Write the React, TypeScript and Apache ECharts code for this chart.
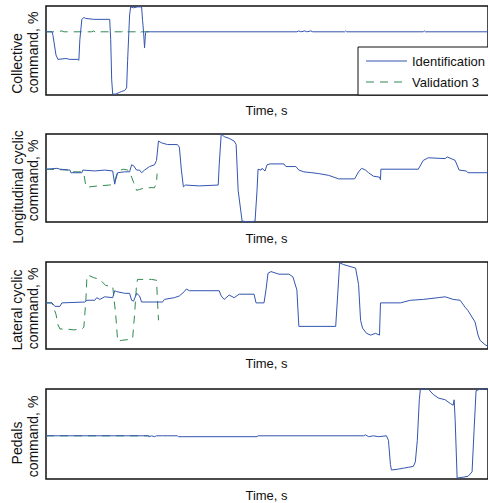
import React, { useEffect, useRef } from "react";
import * as echarts from "echarts";

const SERIES_NAMES = ["Identification", "Validation 3"];
const Y_LABELS = [
  ["Collective", "command, %"],
  ["Longitudinal cyclic", "command, %"],
  ["Lateral cyclic", "command, %"],
  ["Pedals", "command, %"],
];
const X_LABEL = "Time, s";

// [time, %]
const collectiveId = [
  [0, 71], [1.5, 71], [1.75, 67], [2.5, 45], [3, 40], [5, 41], [6, 40], [8, 40], [8.25, 39], [8.5, 62],
  [9, 85], [9.5, 87], [10, 86], [12, 85], [16, 85], [16.25, 62], [16.5, 17], [16.75, 1], [17.5, 1],
  [18.5, 3], [19, 4], [19.75, 5], [20.25, 8], [20.5, 39], [21, 90], [21.25, 99], [22, 98], [23, 99],
  [24, 99], [24.25, 84], [24.5, 71], [24.75, 53], [25, 70], [25.25, 71], [63, 71], [63.5, 72], [64, 71],
  [65, 72], [65.5, 71], [66.5, 72], [67, 71], [75, 71], [75.25, 72], [75.5, 71], [94.75, 71], [95, 72],
  [95.25, 71], [111, 71],
];
const collectiveVal = [
  [0, 71], [3, 71], [4, 72], [4.5, 71], [11.5, 71], [12, 72], [12.5, 70], [13, 71], [19, 71], [19.5, 72],
  [20, 70], [20.5, 71], [22.5, 71], [23, 72], [23.5, 70], [24, 71], [27.25, 71],
];

const longId = [
  [0, 60], [2.75, 61], [3.5, 60], [6, 59], [6.25, 56], [9, 56], [9.25, 59], [12.25, 58], [14.75, 59],
  [16.75, 58], [17.25, 43], [17.5, 48], [18, 56], [19.75, 57], [21, 57], [21.5, 65], [22, 64],
  [22.75, 59], [23.5, 59], [24, 56], [24.75, 59], [26, 63], [27.25, 65], [27.75, 70], [28.25, 92],
  [29, 90], [30.5, 88], [33, 88], [33.5, 85], [34, 59], [34.5, 40], [35, 42], [38.5, 41], [43.25, 42],
  [43.5, 65], [44, 100], [44.75, 97], [46, 95], [47.25, 92], [47.75, 88], [48.25, 36], [49.25, 1],
  [51, 0], [52.5, 1], [53, 36], [53.25, 60], [54, 59], [54.25, 61], [55, 58], [55.5, 65], [56.25, 66],
  [59.75, 66], [60.25, 63], [62.75, 63], [63.5, 59], [64.75, 57], [66.75, 56], [68.5, 55], [71, 53],
  [73.5, 49], [77.5, 49], [78.5, 57], [79.25, 61], [80.25, 59], [81, 56], [82.25, 52], [83.75, 51],
  [84, 48], [84.1, 60], [93.5, 60], [94.75, 70], [96, 73], [100.25, 72], [100.75, 74], [102.75, 70],
  [103.75, 59], [105.5, 58], [106, 56], [111, 56],
];
const longVal = [
  [0, 60], [6, 59], [6.25, 57], [9, 57], [9.5, 55], [10, 41], [10.5, 39], [11, 40], [13, 41], [16, 42],
  [17, 43], [17.5, 50], [18, 58], [19.5, 60], [20.5, 59], [21, 57], [22, 45], [22.75, 36], [23.5, 37],
  [25, 39], [27.25, 39], [27.75, 45], [27.9, 55],
];

const latId = [
  [0, 53], [1.5, 53], [2.25, 49], [3.5, 49], [4, 53], [9.75, 54], [10.25, 56], [12.25, 56], [12.75, 59],
  [13.5, 57], [14.75, 60], [16.75, 59], [17.25, 67], [17.75, 66], [19.75, 64], [21, 64], [21.5, 56],
  [22, 55], [22.75, 64], [23.5, 61], [24, 54], [29.25, 54], [29.75, 57], [32.25, 59], [33.5, 61],
  [34.75, 66], [35.25, 69], [36, 67], [43.5, 67], [44, 61], [44.75, 57], [46, 62], [47.25, 59],
  [48.5, 63], [52.25, 63], [52.75, 53], [54.75, 53], [55.25, 68], [55.75, 87], [56.5, 89], [58.5, 86],
  [61, 86], [62, 83], [63, 68], [63.5, 26], [72.75, 26], [73.25, 62], [73.75, 99], [74.75, 97],
  [77.75, 93], [78.5, 74], [79, 33], [79.5, 24], [80.5, 18], [81.5, 16], [82.75, 18], [83.75, 16],
  [84, 53], [89, 53], [91.5, 56], [94.75, 57], [98.5, 59], [100.25, 60], [102.25, 57], [104, 56],
  [105.25, 48], [106, 44], [107.75, 31], [108.5, 16], [109, 10], [110.25, 5], [111, 3],
];
const latVal = [
  [0, 53], [1.5, 53], [2.5, 40], [3, 28], [3.5, 23], [5, 23], [7, 22], [9, 23], [9.5, 25], [10, 55],
  [10.25, 80], [10.5, 85], [12, 82], [13.5, 80], [15, 73], [16.75, 72], [17.5, 40], [18, 9], [19, 10],
  [21, 11], [21.75, 12], [22.25, 40], [22.75, 75], [23, 80], [25, 80], [26.5, 80], [27.75, 79],
  [28, 55], [28.25, 33],
];

const pedalsId = [
  [0, 48], [25.5, 48], [26, 47], [26.5, 48], [27.25, 47], [27.75, 48], [29.25, 48], [33, 48],
  [33.25, 47], [53, 47], [53.25, 48], [79.75, 48], [80.25, 49], [81, 47], [82.25, 48], [83.5, 47],
  [85.5, 48], [86, 43], [86.5, 16], [86.75, 10], [88.5, 11], [89.75, 12], [91, 13], [92.25, 14],
  [92.75, 19], [93.25, 43], [93.75, 88], [94, 99], [94.75, 100], [96, 100], [97.25, 94], [98.5, 90],
  [100.25, 88], [101.5, 84], [102.25, 82], [102.5, 88], [102.75, 66], [103.25, 1], [104.75, 2],
  [106, 3], [107, 8], [107.5, 54], [108, 98], [109, 100], [111, 100],
];
const pedalsVal = [[0, 48], [26, 48]];

const idData = [collectiveId, longId, latId, pedalsId];
const valData = [collectiveVal, longVal, latVal, pedalsVal];

const FONT = "'Liberation Sans', Arial, sans-serif";
const BLUE = "#3455b0";
const GREEN = "#2f8a4f";
const DASH = [8, 6];

const GRID_TOPS = [6, 134, 262, 389];
const GRID_HEIGHTS = [89, 88, 87, 90];
const GRID_LEFT = 46;
const GRID_WIDTH = 444;

const Y_LABEL_POS = [
  [[17, 63.5], [33, 52.5]],
  [[18, 187], [33, 180.5]],
  [[17, 310], [33, 308.5]],
  [[17, 443], [33, 436.5]],
];
const X_LABEL_Y = [110, 238, 363, 495];

export default function App() {
  const ref = useRef<HTMLDivElement>(null);
  useEffect(() => {
    if (!ref.current) return;
    const chart = echarts.init(ref.current, undefined, { renderer: "svg" });
    const grids = GRID_TOPS.map((top, i) => ({
      left: GRID_LEFT,
      top,
      width: GRID_WIDTH,
      height: GRID_HEIGHTS[i],
      show: true,
      borderColor: "#111",
      borderWidth: 1.5,
      backgroundColor: "transparent",
    }));
    const xAxes = GRID_TOPS.map((_, i) => ({
      type: "value",
      gridIndex: i,
      min: 0,
      max: 111,
      show: false,
    }));
    const yAxes = GRID_TOPS.map((_, i) => ({
      type: "value",
      gridIndex: i,
      min: 0,
      max: 100,
      show: false,
    }));
    const series: any[] = [];
    for (let i = 0; i < 4; i++) {
      series.push({
        name: SERIES_NAMES[0],
        type: "line",
        xAxisIndex: i,
        yAxisIndex: i,
        data: idData[i],
        showSymbol: false,
        symbol: "none",
        lineStyle: { color: BLUE, width: 1 },
        itemStyle: { color: BLUE },
        z: 3,
      });
      series.push({
        name: SERIES_NAMES[1],
        type: "line",
        xAxisIndex: i,
        yAxisIndex: i,
        data: valData[i],
        showSymbol: false,
        symbol: "none",
        lineStyle: { color: GREEN, width: 1, type: DASH },
        itemStyle: { color: GREEN },
        z: 2,
      });
    }
    const graphics: any[] = [];
    Y_LABELS.forEach((lines, i) => {
      lines.forEach((t, j) => {
        const [x, y] = Y_LABEL_POS[i][j];
        graphics.push({
          type: "text",
          x,
          y,
          rotation: Math.PI / 2,
          style: {
            text: t,
            align: "center",
            verticalAlign: "middle",
            fontSize: 14,
            fontFamily: FONT,
            fill: "#111",
          },
        });
      });
    });
    X_LABEL_Y.forEach((y) => {
      graphics.push({
        type: "text",
        x: 266.5,
        y,
        style: {
          text: X_LABEL,
          align: "center",
          verticalAlign: "middle",
          fontSize: 13,
          fontFamily: FONT,
          fill: "#111",
        },
      });
    });
    // legend box
    graphics.push({
      type: "rect",
      shape: { x: 358, y: 47, width: 140, height: 48 },
      style: { fill: "#fff", stroke: "#111", lineWidth: 1 },
      z: 100,
    });
    const legendColors = [BLUE, GREEN];
    const legendY = [61, 82];
    SERIES_NAMES.forEach((name, k) => {
      graphics.push({
        type: "line",
        shape: { x1: 366, y1: legendY[k], x2: 407, y2: legendY[k] },
        style: { stroke: legendColors[k], lineWidth: 1, lineDash: k === 1 ? DASH : null },
        z: 101,
      });
      graphics.push({
        type: "text",
        x: 412,
        y: legendY[k],
        style: {
          text: name,
          align: "left",
          verticalAlign: "middle",
          fontSize: 13,
          fontFamily: FONT,
          fill: "#111",
        },
        z: 101,
      });
    });
    chart.setOption({
      animation: false,
      grid: grids,
      xAxis: xAxes,
      yAxis: yAxes,
      series,
      graphic: graphics,
    });
    return () => chart.dispose();
  }, []);
  return (
    <div
      ref={ref}
      style={{ position: "fixed", left: 0, top: 0, width: 488, height: 503, background: "#fff" }}
    />
  );
}
